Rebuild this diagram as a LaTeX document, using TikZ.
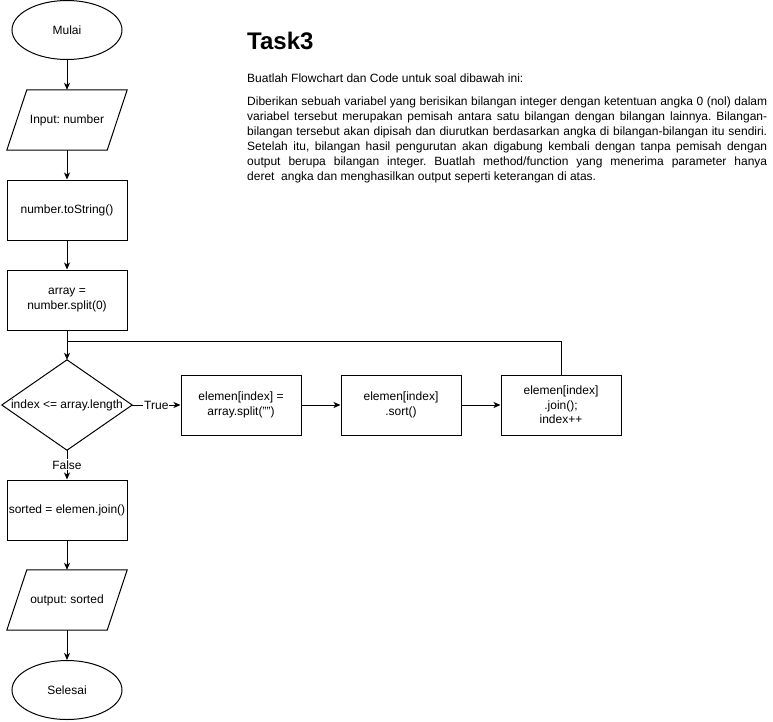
\documentclass[tikz,border=0pt]{standalone}
\usepackage{fontspec}
\setmainfont{Liberation Sans}
\usetikzlibrary{shapes.geometric,arrows.meta}
\frenchspacing
\begin{document}
\begin{tikzpicture}[x=1pt,y=-1pt,
  font=\fontsize{12}{14.4}\selectfont,
  every node/.style={inner sep=0pt},
  edge/.style={line width=1pt},
  flow/.style={edge,-{Stealth[length=7pt,width=6pt,inset=2pt]}},
  terminal/.style={ellipse,draw,line width=1pt,minimum width=110pt,minimum height=59pt},
  proc/.style={rectangle,draw,line width=1pt,minimum width=120pt,minimum height=60pt,align=center},
  frame/.style={rectangle,minimum width=120pt,minimum height=60pt,align=center},
  tag/.style={fill=white,inner sep=1pt},
  para/.style={anchor=base west}
]
\useasboundingbox (0,0) rectangle (773,721);

% ---- main column ----
\node[terminal] (start) at (67,30) {Mulai};
\node[frame] (inp) at (67,120) {Input: number};
\node[proc] (str) at (67,210) {number.toString()};
\node[proc] (spl) at (67,300) {array =\\number.split(0)};
\node[frame,minimum width=130pt,minimum height=90pt] (dec) at (67,405) {index <= array.length};
\node[proc] (srt) at (67,510) {sorted = elemen.join()};
\node[frame] (out) at (67,600) {output: sorted};
\node[terminal] (end) at (67,690) {Selesai};

% ---- loop body ----
\node[proc] (b1) at (241,405) {elemen[index] =\\array.split("")};
\node[proc] (b2) at (401,405) {elemen[index]\\.sort()};
\node[proc] (b3) at (561,405) {elemen[index]\\.join();\\index++};

% parallelograms and diamond outlines
\draw[edge] ([xshift=20pt]inp.north west) -- (inp.north east) -- ([xshift=-20pt]inp.south east) -- (inp.south west) -- cycle;
\draw[edge] ([xshift=20pt]out.north west) -- (out.north east) -- ([xshift=-20pt]out.south east) -- (out.south west) -- cycle;
\draw[edge] (dec.north) -- (dec.east) -- (dec.south) -- (dec.west) -- cycle;

% ---- connectors ----
\coordinate (back) at (67,341);
\draw[flow] (start) -- (inp);
\draw[flow] (inp) -- (str);
\draw[flow] (str) -- (spl);
\draw[flow] (spl) -- (dec.north);
\draw[flow] (dec.east) -- node[tag] (t) {True} (b1.west);
\draw[flow] (b1) -- (b2);
\draw[flow] (b2) -- (b3);
\draw[edge] (b3.north) -- (b3.north |- back) -- (back);
\draw[flow] (dec.south) -- node[tag] (f) {False} (srt.north);
\draw[flow] (srt) -- (out);
\draw[flow] (out) -- (end);

% ---- task description ----
\node[para] (title) at (247,49) {\fontsize{24}{28}\selectfont\bfseries Task3};
\node[para] (intro) at (247,82) {Buatlah Flowchart dan Code untuk soal dibawah ini:};
\node[para] (l1) at (247,105) {\makebox[520pt][s]{Diberikan sebuah variabel yang berisikan bilangan integer dengan ketentuan angka 0 (nol) dalam}};
\node[para] (l2) at (247,120) {\makebox[520pt][s]{variabel tersebut merupakan pemisah antara satu bilangan dengan bilangan lainnya. Bilangan-}};
\node[para] (l3) at (247,135) {\makebox[520pt][s]{bilangan tersebut akan dipisah dan diurutkan berdasarkan angka di bilangan-bilangan itu sendiri.}};
\node[para] (l4) at (247,150) {\makebox[520pt][s]{Setelah itu, bilangan hasil pengurutan akan digabung kembali dengan tanpa pemisah dengan}};
\node[para] (l5) at (247,165) {\makebox[520pt][s]{output berupa bilangan integer. Buatlah method/function yang menerima parameter hanya}};
\node[para] (l6) at (247,180) {deret\ \ angka dan menghasilkan output seperti keterangan di atas.};
\end{tikzpicture}
\end{document}
